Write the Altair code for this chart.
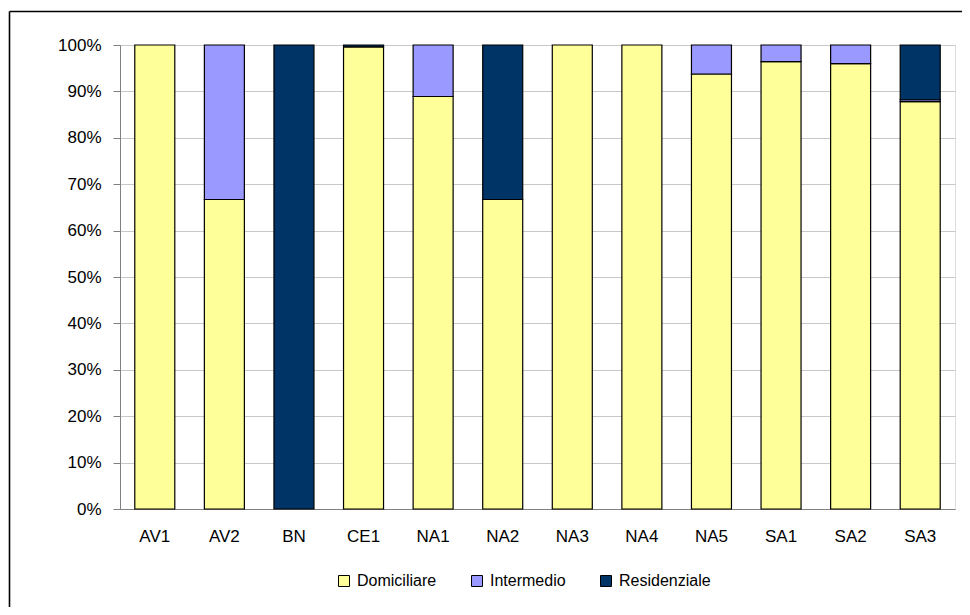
import altair as alt
import pandas as pd

categories = ["AV1", "AV2", "BN", "CE1", "NA1", "NA2", "NA3", "NA4", "NA5", "SA1", "SA2", "SA3"]
domiciliare = [100, 66.7, 0, 99.6, 88.9, 66.7, 100, 100, 93.75, 96.4, 96.0, 87.8]
intermedio = [0, 33.3, 0, 0, 11.1, 0, 0, 0, 6.25, 3.6, 4.0, 0.4]
residenziale = [0, 0, 100, 0.4, 0, 33.3, 0, 0, 0, 0, 0, 11.8]
series = ["Domiciliare", "Intermedio", "Residenziale"]
colors = ["#FFFF99", "#9999FF", "#003366"]

rows = []
for i, c in enumerate(categories):
    for k, (name, vals) in enumerate(zip(series, [domiciliare, intermedio, residenziale])):
        if vals[i] > 0:
            rows.append({"cat": c, "serie": name, "val": vals[i], "ord": k})
df = pd.DataFrame(rows)

FONT = "Liberation Sans"
W, H = 835, 464

bars = alt.Chart(df).mark_bar(stroke="black", strokeWidth=1.2).encode(
    x=alt.X("cat:N", sort=categories, title=None,
            scale=alt.Scale(paddingInner=0.425, paddingOuter=0.2125),
            axis=alt.Axis(labelAngle=0, ticks=False, labelPadding=19,
                          domainColor="#808080", labelFontSize=17, labelFont=FONT,
                          labelColor="black")),
    y=alt.Y("val:Q", stack="normalize", title=None,
            scale=alt.Scale(domain=[0, 1]),
            axis=alt.Axis(format=".0%", values=[i / 10 for i in range(11)],
                          grid=True, gridColor="#c8c8c8", tickColor="#808080",
                          tickSize=7, labelPadding=12, domainColor="#808080",
                          labelFontSize=17, labelFont=FONT, labelColor="black")),
    color=alt.Color("serie:N", scale=alt.Scale(domain=series, range=colors),
                    legend=alt.Legend(title=None, orient="none", legendX=216, legendY=528,
                                      direction="horizontal", symbolType="square",
                                      symbolSize=121, symbolStrokeColor="black",
                                      symbolStrokeWidth=1, labelFontSize=16, labelFont=FONT,
                                      labelColor="black", columnPadding=32, labelOffset=5)),
    order=alt.Order("ord:Q", sort="ascending"),
)

frame_df = pd.DataFrame({"a": [0]})
top_rule = alt.Chart(frame_df).mark_rule(color="black", strokeWidth=1.6).encode(
    x=alt.value(-110.5), x2=alt.value(900), y=alt.value(-33.5))
left_rule = alt.Chart(frame_df).mark_rule(color="black", strokeWidth=1.6).encode(
    x=alt.value(-110.5), y=alt.value(-33.5), y2=alt.value(600))

chart = alt.layer(bars, top_rule, left_rule).properties(
    width=W, height=H,
    autosize=alt.AutoSizeParams(type="none"),
    padding={"left": 112, "top": 37, "right": 7, "bottom": 98},
).configure_view(stroke=None).configure(background="white")

chart.save("out.html", embed_options={"renderer": "svg", "actions": False})
